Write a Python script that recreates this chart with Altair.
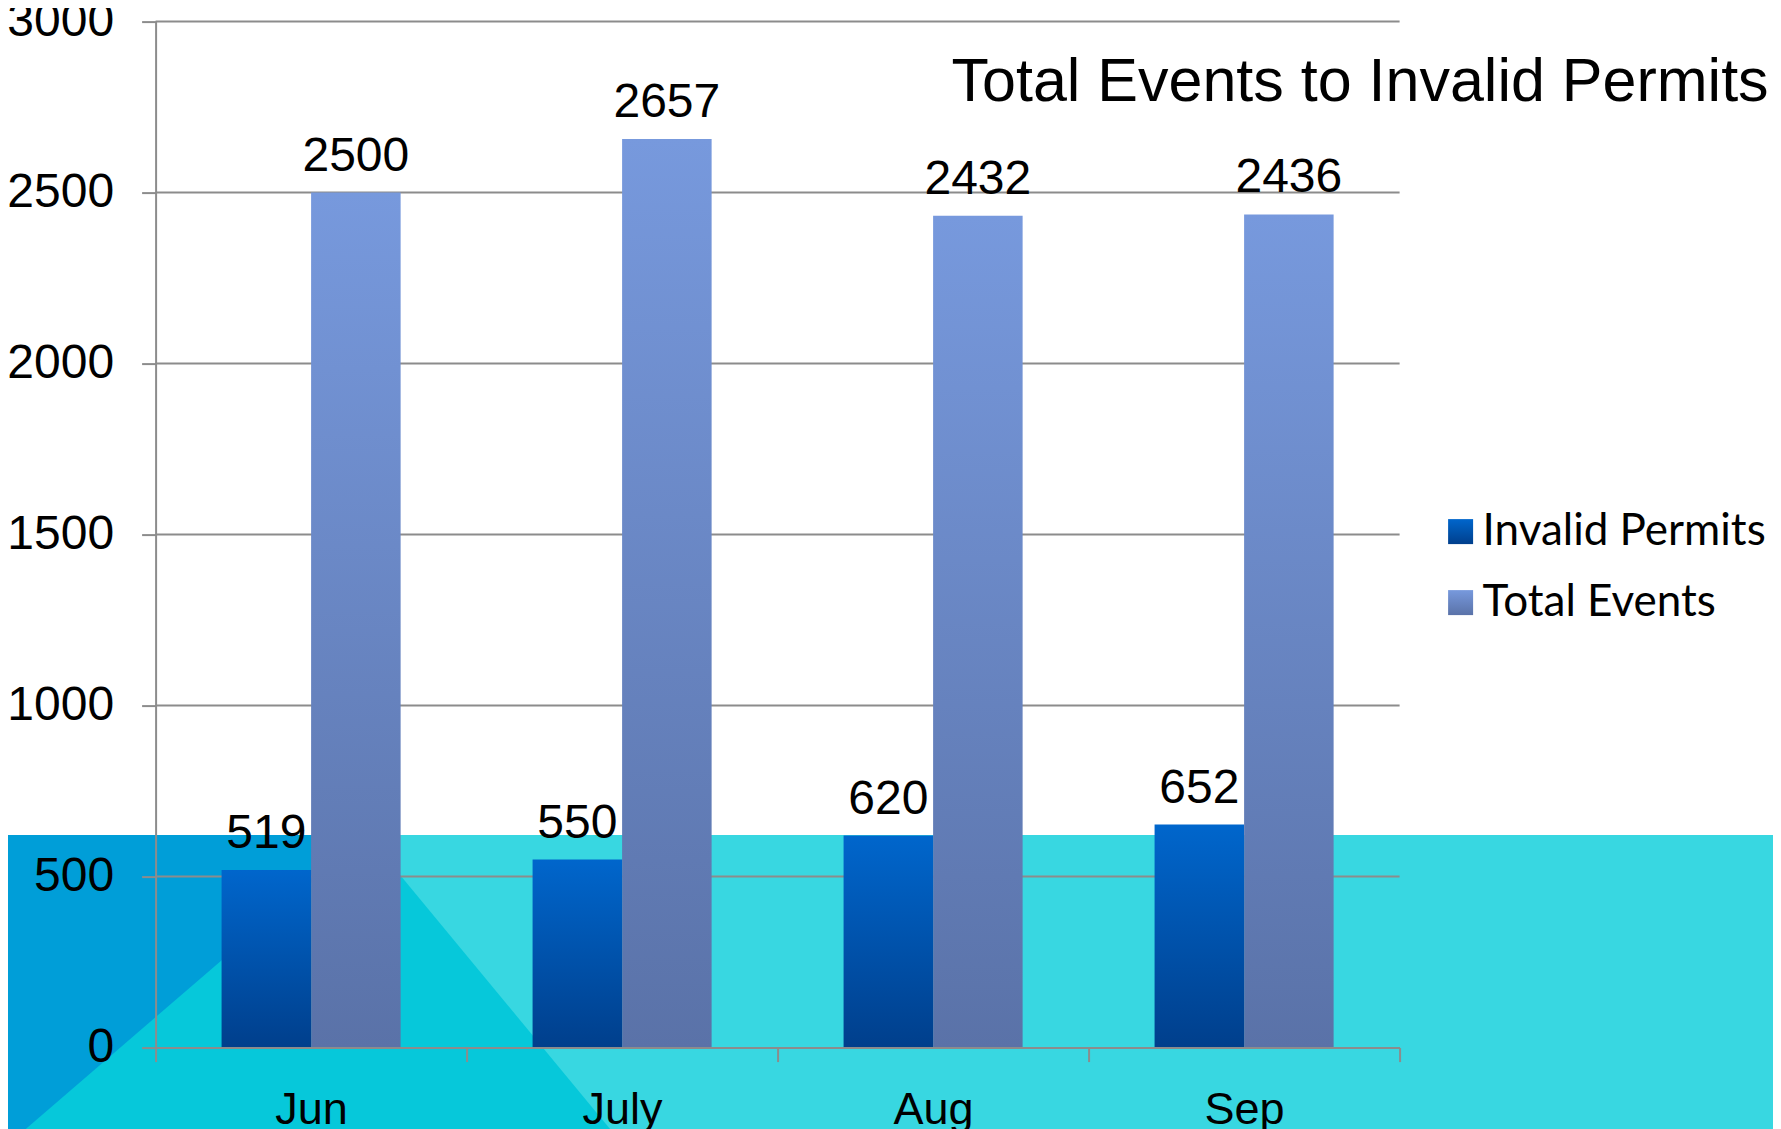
import altair as alt
import pandas as pd

# ---- data ----
months = ["Jun", "July", "Aug", "Sep"]
invalid_permits = [519, 550, 620, 652]
total_events = [2500, 2657, 2432, 2436]
series_names = ["Invalid Permits", "Total Events"]
y_ticks = [0, 500, 1000, 1500, 2000, 2500, 3000]
title_text = "Total Events to Invalid Permits"

rows = []
for m, a, b in zip(months, invalid_permits, total_events):
    rows.append({"month": m, "series": series_names[0], "value": a})
    rows.append({"month": m, "series": series_names[1], "value": b})
df = pd.DataFrame(rows)
grid_df = pd.DataFrame({"value": y_ticks[1:]})

W, H = 1244, 1026


def grad_expr(top, bottom):
    return {"expr": "{gradient: 'linear', x1: 0, y1: 0, x2: 0, y2: 1, stops: ["
                    f"{{offset: 0, color: '{top}'}}, {{offset: 1, color: '{bottom}'}}]}}"}


# ---- slide background decoration (not data) ----
one = pd.DataFrame({"k": [0]})
band = alt.Chart(one).mark_rect(color="#38D7E1").encode(
    x=alt.value(-170), x2=alt.value(1700), y=alt.value(813.4), y2=alt.value(1200))
dark = alt.Chart(one).mark_rect(color="#009ED8").encode(
    x=alt.value(-170), x2=alt.value(211.4), y=alt.value(813.4), y2=alt.value(1200))
tri_df = pd.DataFrame({"px": [-170, 211.4, 531], "top": [1142, 813.4, 1200], "bottom": [1200, 1200, 1200]})
tri = alt.Chart(tri_df).mark_area(color="#06C8DA").encode(
    x=alt.X("px:Q", scale=None, axis=None),
    y=alt.Y("top:Q", scale=None, axis=None),
    y2="bottom:Q")
deco = alt.layer(band, dark, tri)

# ---- main chart ----
x_axis = alt.Axis(title=None, labelAngle=0, tickBand="extent",
                  labelFont="Liberation Sans", labelFontSize=45,
                  labelColor="black", labelPadding=26, tickSize=14,
                  tickColor="#8C8C8C", tickWidth=2, domainColor="#8C8C8C",
                  domainWidth=2, zindex=1, grid=False)
x_enc = alt.X("month:N", sort=months,
              scale=alt.Scale(paddingInner=0, paddingOuter=0), axis=x_axis)
xo_enc = alt.XOffset("series:N", sort=series_names,
                     scale=alt.Scale(paddingInner=0, paddingOuter=0.737))
y_scale = alt.Scale(domain=[0, 3000], nice=False, zero=True)
y_axis = alt.Axis(title=None, values=y_ticks, format="d", orient="left", grid=False,
                  labelFont="Liberation Sans", labelFontSize=48,
                  labelColor="black", labelPadding=28, tickSize=14,
                  tickColor="#8C8C8C", tickWidth=2, domainColor="#8C8C8C",
                  domainWidth=2, zindex=1)
y_enc = alt.Y("value:Q", scale=y_scale, axis=y_axis)

grid = alt.Chart(grid_df).mark_rule(color="#8C8C8C", strokeWidth=2).encode(y=y_enc)

bars = alt.Chart(df).mark_bar().encode(
    x=x_enc, xOffset=xo_enc, y=y_enc,
    color=alt.Color("series:N", sort=series_names,
                    scale=alt.Scale(domain=series_names,
                                    range=[grad_expr("#0066CC", "#003F8C"),
                                           grad_expr("#7799DD", "#5A72A8")]),
                    legend=alt.Legend(title=None, orient="none", legendX=1283, legendY=488,
                                      symbolType="square", symbolSize=625,
                                      symbolStrokeWidth=0, labelFont="Lato",
                                      labelFontSize=44, labelColor="black",
                                      labelOffset=0, rowPadding=27, padding=0,
                                      labelLimit=0)))

labels = alt.Chart(df).mark_text(font="Liberation Sans", fontSize=48, color="black",
                                 baseline="alphabetic", dy=-22).encode(
    x=x_enc, xOffset=xo_enc, y=y_enc, text=alt.Text("value:Q"))

main = alt.layer(grid, bars, labels)

chart = alt.layer(deco, main).resolve_scale(x="independent", y="independent").properties(
    width=W, height=H,
    padding={"left": 147.6, "top": 13.6, "right": 373.4, "bottom": 81.4},
    autosize=alt.AutoSizeParams(type="none"),
    background="white",
    title=alt.TitleParams(title_text, anchor="end", frame="group",
                          font="Liberation Sans", fontSize=61,
                          fontWeight="normal", color="black",
                          baseline="alphabetic", dx=369, dy=168),
).configure_view(stroke=None)

chart.save("out.html", embed_options={"renderer": "svg", "actions": False})
